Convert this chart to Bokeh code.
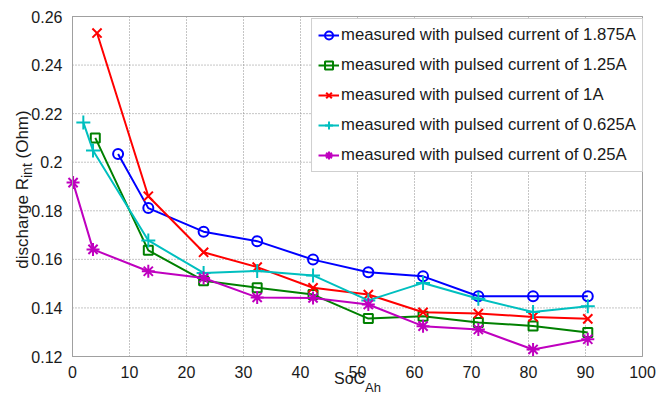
from math import pi

from bokeh.plotting import figure
from bokeh.models import (Legend, LegendItem, Range1d, FixedTicker, LinearAxis,
                          Label, Grid)
from bokeh.embed import file_html
from bokeh.resources import INLINE

# State of charge (Ah based, %) and discharge internal resistance (Ohm) per pulse current
soc_1875 = [8.0, 13.3, 23.0, 32.4, 42.2, 51.9, 61.5, 71.2, 80.8, 90.4]
rint_1875 = [0.2034, 0.1811, 0.1714, 0.1675, 0.1599, 0.1547, 0.1530, 0.1448, 0.1448, 0.1448]

soc_125 = [4.0, 13.3, 23.0, 32.4, 42.2, 51.9, 61.5, 71.2, 80.8, 90.4]
rint_125 = [0.2100, 0.1637, 0.1512, 0.1483, 0.1455, 0.1356, 0.1366, 0.1340, 0.1326, 0.1299]

soc_1 = [4.3, 13.3, 23.0, 32.4, 42.2, 51.9, 61.5, 71.2, 80.8, 90.4]
rint_1 = [0.2532, 0.1860, 0.1629, 0.1568, 0.1483, 0.1455, 0.1382, 0.1377, 0.1363, 0.1355]

soc_0625 = [1.9, 3.6, 13.3, 23.0, 32.4, 42.2, 51.9, 61.5, 71.2, 80.8, 90.4]
rint_0625 = [0.2164, 0.2048, 0.1678, 0.1544, 0.1552, 0.1534, 0.1431, 0.1503, 0.1438, 0.1383, 0.1407]

soc_025 = [0.1, 3.6, 13.3, 23.0, 32.4, 42.2, 51.9, 61.5, 71.2, 80.8, 90.4]
rint_025 = [0.1916, 0.1641, 0.1551, 0.1523, 0.1443, 0.1441, 0.1414, 0.1325, 0.1311, 0.1229, 0.1271]

series_labels = [
    "measured with pulsed current of 1.875A",
    "measured with pulsed current of 1.25A",
    "measured with pulsed current of 1A",
    "measured with pulsed current of 0.625A",
    "measured with pulsed current of 0.25A",
]

x_ticks = [0, 10, 20, 30, 40, 50, 60, 70, 80, 90, 100]
y_ticks = [0.12, 0.14, 0.16, 0.18, 0.2, 0.22, 0.24, 0.26]
y_tick_labels = ["0.12", "0.14", "0.16", "0.18", "0.2", "0.22", "0.24", "0.26"]

X_MIN, X_MAX = 0, 100
Y_MIN, Y_MAX = 0.12, 0.26

FONT = "Liberation Sans"
FRAME = "#a0a0a0"
INK = "#1a1a1a"

# Canvas and the box that holds the data, in canvas pixels.  The plot frame
# spans the whole canvas so that the axis titles (with subscripts) can sit
# freely beside the axes; the axes themselves are pinned to the box edges.
W, H = 657, 394
CANVAS_TOP = 4
BOX_L, BOX_R, BOX_T, BOX_B = 72, 642, 16, 356
XS = (BOX_R - BOX_L) / (X_MAX - X_MIN)      # px per x unit
YS = (BOX_B - BOX_T) / (Y_MAX - Y_MIN)      # px per y unit


def px_x(px):
    return X_MIN + (px - BOX_L) / XS


def px_y(py):
    return Y_MIN + (BOX_B - py) / YS


p = figure(width=W, height=H,
           x_range=Range1d(px_x(0), px_x(W)), y_range=Range1d(px_y(H), px_y(CANVAS_TOP)),
           output_backend="svg", toolbar_location=None,
           x_axis_location=None, y_axis_location=None,
           min_border_left=0, min_border_right=0,
           min_border_top=CANVAS_TOP, min_border_bottom=0)
p.center = [r for r in p.center if not isinstance(r, Grid)]
p.outline_line_color = None
p.background_fill_color = "white"
p.border_fill_color = "white"

# dotted grid inside the data box
n_x, n_y = len(x_ticks), len(y_ticks)
p.segment(x0=x_ticks, y0=[Y_MIN] * n_x, x1=x_ticks, y1=[Y_MAX] * n_x,
          line_color="#8a8a8a", line_dash="1 2", line_width=1)
p.segment(x0=[X_MIN] * n_y, y0=y_ticks, x1=[X_MAX] * n_y, y1=y_ticks,
          line_color="#8a8a8a", line_dash="1 2", line_width=1)


def box_axis(at, bounds, ticks=()):
    ax = LinearAxis(fixed_location=at, bounds=bounds,
                    ticker=FixedTicker(ticks=list(ticks)))
    ax.axis_line_color = FRAME
    ax.axis_line_width = 1
    ax.major_tick_line_color = None
    ax.minor_tick_line_color = None
    ax.major_label_text_font = FONT
    ax.major_label_text_font_size = "16px"
    ax.major_label_text_color = INK
    return ax


xaxis = box_axis(Y_MIN, (X_MIN, X_MAX), x_ticks)
xaxis.major_label_standoff = 3
p.add_layout(xaxis, "below")

yaxis = box_axis(X_MIN, (Y_MIN, Y_MAX), y_ticks)
yaxis.major_label_standoff = 4
yaxis.major_label_overrides = dict(zip(y_ticks, y_tick_labels))
p.add_layout(yaxis, "left")

p.add_layout(box_axis(Y_MAX, (X_MIN, X_MAX)), "above")
p.add_layout(box_axis(X_MAX, (Y_MIN, Y_MAX)), "right")

styles = [
    (soc_1875, rint_1875, "#0000ff", "circle", 10),
    (soc_125, rint_125, "#008000", "square", 9),
    (soc_1, rint_1, "#ff0000", "x", 13),
    (soc_0625, rint_0625, "#00bfbf", "cross", 14),
    (soc_025, rint_025, "#bf00bf", "asterisk", 13),
]

items = []
for (xs, ys, color, marker, size), label in zip(styles, series_labels):
    ln = p.line(xs, ys, line_color=color, line_width=2)
    sc = p.scatter(xs, ys, marker=marker, size=size, line_color=color,
                   fill_color=None, line_width=2)
    items.append(LegendItem(label=label, renderers=[ln, sc]))

legend = Legend(items=items, location="top_right",
                label_text_font=FONT, label_text_font_size="16.7px",
                label_text_color=INK,
                glyph_width=21, glyph_height=20, label_height=20,
                label_standoff=2, spacing=10, padding=6,
                margin=W - BOX_R - 1,
                border_line_color=FRAME, border_line_width=1,
                background_fill_color="white", background_fill_alpha=1)
p.add_layout(legend)

# Arial/Liberation Sans advance widths (per 1000 em), used to lay out the
# axis titles whose subscripts sit on their own baseline
ADV = {"d": 556, "i": 222, "s": 500, "c": 500, "h": 556, "a": 556, "r": 333,
       "g": 556, "e": 556, " ": 278, "R": 722, "n": 556, "t": 278, "(": 333,
       ")": 333, "O": 778, "m": 833, "S": 667, "o": 556, "C": 722, "A": 667}


def text_width(s, size):
    return sum(ADV[ch] for ch in s) * size / 1000.0


def title_piece(text, size, px, py, angle=0.0, baseline="alphabetic"):
    return Label(x=px_x(px), y=px_y(py), text=text, angle=angle,
                 text_align="left", text_baseline=baseline,
                 text_font=FONT, text_font_size=f"{size}px", text_color=INK)


# x title: "SoC" with subscript "Ah", centred under the box; placed by the
# top edge of each text
soc_size, ah_size = 16, 13
w_soc, w_ah = text_width("SoC", soc_size), text_width("Ah", ah_size)
x_start = (BOX_L + BOX_R) / 2 - (w_soc + w_ah) / 2
soc_top, ah_top = BOX_B + 13.5, BOX_B + 23
p.add_layout(title_piece("SoC", soc_size, x_start, soc_top, baseline="top"))
p.add_layout(title_piece("Ah", ah_size, x_start + w_soc, ah_top, baseline="top"))

# y title: "discharge R" with subscript "int", then "(Ohm)", reading upward
main_size, sub_size = 17, 14
w_main = text_width("discharge R", main_size)
w_int = text_width("int", sub_size)
w_gap = text_width(" ", main_size)
w_ohm = text_width("(Ohm)", main_size)
total = w_main + w_int + w_gap + w_ohm
y_start = (BOX_T + BOX_B) / 2 + 3 + total / 2
main_base = BOX_L - 50.5
p.add_layout(title_piece("discharge R", main_size, main_base, y_start, pi / 2))
p.add_layout(title_piece("int", sub_size, main_base + 5, y_start - w_main, pi / 2))
p.add_layout(title_piece("(Ohm)", main_size, main_base,
                         y_start - w_main - w_int - w_gap, pi / 2))

open("out.html", "w").write(file_html(p, INLINE))
